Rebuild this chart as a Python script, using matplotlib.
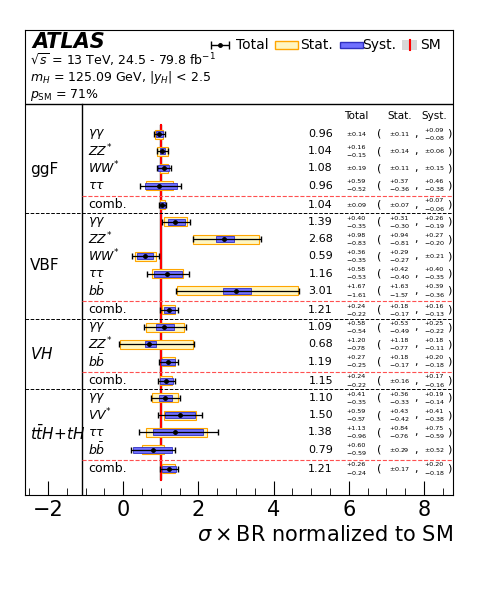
import matplotlib.pyplot as plt
from matplotlib.patches import Rectangle

groups = ['ggF', 'VBF', '$VH$', r'$t\bar{t}H$+$tH$']
labels = [
    [r'$\gamma\gamma$', '$ZZ^{*}$', '$WW^{*}$', r'$\tau\tau$', 'comb.'],
    [r'$\gamma\gamma$', '$ZZ^{*}$', '$WW^{*}$', r'$\tau\tau$', r'$b\bar{b}$', 'comb.'],
    [r'$\gamma\gamma$', '$ZZ^{*}$', r'$b\bar{b}$', 'comb.'],
    [r'$\gamma\gamma$', '$VV^{*}$', r'$\tau\tau$', r'$b\bar{b}$', 'comb.'],
]
values = [[0.96, 1.04, 1.08, 0.96, 1.04],
          [1.39, 2.68, 0.59, 1.16, 3.01, 1.21],
          [1.09, 0.68, 1.19, 1.15],
          [1.10, 1.50, 1.38, 0.79, 1.21]]
tot_up = [[0.14, 0.16, 0.19, 0.59, 0.09], [0.40, 0.98, 0.36, 0.58, 1.67, 0.24],
          [0.58, 1.20, 0.27, 0.24], [0.41, 0.59, 1.13, 0.60, 0.26]]
tot_dn = [[0.14, 0.15, 0.19, 0.52, 0.09], [0.35, 0.83, 0.35, 0.53, 1.61, 0.22],
          [0.54, 0.78, 0.25, 0.22], [0.35, 0.57, 0.96, 0.59, 0.24]]
stat_up = [[0.11, 0.14, 0.11, 0.37, 0.07], [0.31, 0.94, 0.29, 0.42, 1.63, 0.18],
           [0.53, 1.18, 0.18, 0.16], [0.36, 0.43, 0.84, 0.29, 0.17]]
stat_dn = [[0.11, 0.14, 0.11, 0.36, 0.07], [0.30, 0.81, 0.27, 0.40, 1.57, 0.17],
           [0.49, 0.77, 0.17, 0.16], [0.33, 0.42, 0.76, 0.29, 0.17]]
syst_up = [[0.09, 0.06, 0.15, 0.46, 0.07], [0.26, 0.27, 0.21, 0.40, 0.39, 0.16],
           [0.25, 0.18, 0.20, 0.17], [0.19, 0.41, 0.75, 0.52, 0.20]]
syst_dn = [[0.08, 0.06, 0.15, 0.38, 0.06], [0.19, 0.20, 0.21, 0.35, 0.36, 0.13],
           [0.22, 0.11, 0.18, 0.16], [0.14, 0.38, 0.59, 0.52, 0.18]]

fig = plt.figure(figsize=(4.8, 5.9), dpi=100)
ax = fig.add_axes([25/480, 1-495/590, 428/480, 465/590])
ax.set_xlim(-2.61, 8.77)
ax.set_ylim(495, 30)
ax.set_yticks([])
ax.set_xticks([-2, 0, 2, 4, 6, 8])
ax.set_xticks([x/2 for x in range(-5, 18)], minor=True)
ax.tick_params(axis='x', which='major', direction='in', length=10, labelsize=15, top=False)
ax.tick_params(axis='x', which='minor', direction='in', length=5, top=False)
ax.set_xlabel(r'$\sigma\times$BR normalized to SM', fontsize=15, loc='right')


def px(p):
    return -2 + (p - 48) / 37.6


def err_txt(x, y, up, dn, fs=4.6):
    if abs(up - dn) < 1e-9:
        ax.text(x, y, '$\\pm$%.2f' % up, fontsize=fs, ha='left', va='center')
    else:
        ax.text(x, y - 3.8, '+%.2f' % up, fontsize=fs, ha='left', va='center')
        ax.text(x, y + 3.8, '$-$%.2f' % dn, fontsize=fs, ha='left', va='center')


# header
ax.axhline(104, color='k', lw=1)
ax.plot([px(82), px(82)], [104, 495], color='k', lw=1)
ax.text(px(32), 42, 'ATLAS', fontsize=15, fontweight='bold', style='italic', va='center')
ax.text(px(30), 60, r'$\sqrt{s}$ = 13 TeV, 24.5 - 79.8 fb$^{-1}$', fontsize=9, va='center')
ax.text(px(30), 78, r'$m_H$ = 125.09 GeV, $|y_H|$ < 2.5', fontsize=9, va='center')
ax.text(px(30), 95, r'$p_{\rm SM}$ = 71%', fontsize=9, va='center')
# legend
ax.errorbar([px(220)], [45], xerr=[[0.25]], fmt='o', color='k', ms=2.5, capsize=3, lw=1)
ax.text(px(236), 45, 'Total', fontsize=10, va='center')
ax.add_patch(Rectangle((px(275), 41), 0.6, 8, fc='#fff6c0', ec='orange'))
ax.text(px(300), 45, 'Stat.', fontsize=10, va='center')
ax.add_patch(Rectangle((px(340), 42), 0.6, 6, fc='#7070ff', ec='#3030c0'))
ax.text(px(362), 45, 'Syst.', fontsize=10, va='center')
ax.add_patch(Rectangle((px(402), 40), 0.4, 10, fc='#d8d8d8', ec='none'))
ax.plot([px(409.5), px(409.5)], [40, 50], color='red', lw=1.5)
ax.text(px(420), 45, 'SM', fontsize=10, va='center')

ax.text(px(356), 116, 'Total', fontsize=7.5, ha='center', va='center')
ax.text(px(400), 116, 'Stat.', fontsize=7.5, ha='center', va='center')
ax.text(px(434), 116, 'Syst.', fontsize=7.5, ha='center', va='center')

# SM band and line
ax.add_patch(Rectangle((0.95, 125), 0.1, 355, fc='#dcdcdc', ec='none', zorder=1))
ax.plot([1, 1], [125, 480], color='red', lw=1.5, zorder=2)

y = 134.0
step = 17.2
for g, grp in enumerate(groups):
    ys = []
    for i, lab in enumerate(labels[g]):
        if lab == 'comb.':
            y += 2
            ax.plot([px(82), px(453)], [y - 9, y - 9], color='#ff5050', ls='--', lw=0.8)
        v = values[g][i]
        ax.add_patch(Rectangle((v - stat_dn[g][i], y - 4.5), stat_up[g][i] + stat_dn[g][i], 9,
                               fc='#fff6c0', ec='orange', lw=0.8, zorder=3))
        ax.add_patch(Rectangle((v - syst_dn[g][i], y - 3), syst_up[g][i] + syst_dn[g][i], 6,
                               fc='#7070ff', ec='#3030c0', lw=0.6, zorder=4))
        ax.errorbar([v], [y], xerr=[[tot_dn[g][i]], [tot_up[g][i]]], fmt='o', color='k',
                    ms=2.5, capsize=2.5, lw=0.9, zorder=5)
        ax.text(px(88), y, lab, fontsize=9, va='center')
        ax.text(px(333), y, '%.2f' % v, fontsize=8, ha='right', va='center')
        err_txt(px(346), y, tot_up[g][i], tot_dn[g][i])
        ax.text(px(377), y, '(', fontsize=8, va='center')
        err_txt(px(389), y, stat_up[g][i], stat_dn[g][i])
        ax.text(px(414), y, ',', fontsize=8, va='center')
        err_txt(px(424), y, syst_up[g][i], syst_dn[g][i])
        ax.text(px(447), y, ')', fontsize=8, va='center')
        ys.append(y)
        y += step
    ax.text(px(30), (ys[0] + ys[-1]) / 2, grp, fontsize=11, va='center')
    if g < len(groups) - 1:
        ax.plot([px(25), px(453)], [y - 8.5, y - 8.5], color='k', ls='--', lw=0.7)

fig.savefig('out.png', dpi=100)
